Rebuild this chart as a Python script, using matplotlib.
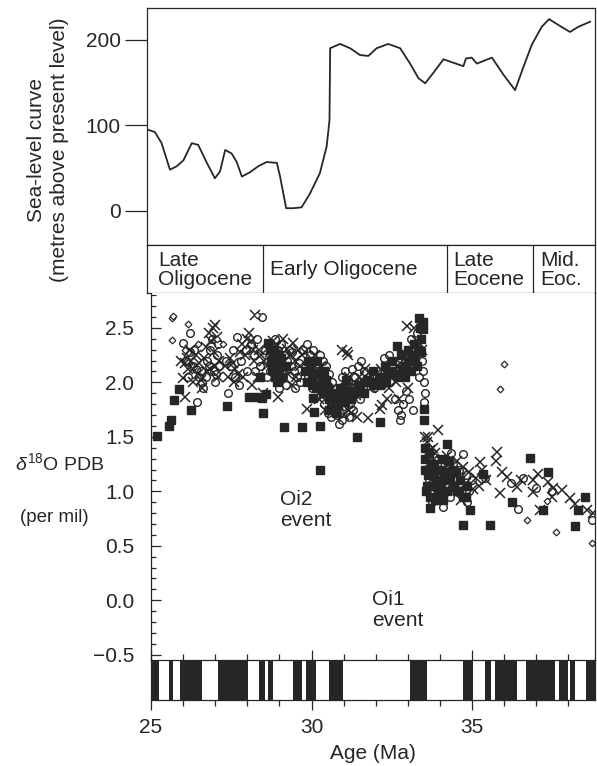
import numpy as np
import matplotlib
matplotlib.use('Agg')
from matplotlib import pyplot as plt
from matplotlib.ticker import MultipleLocator

plt.rcParams['font.family'] = ['Liberation Sans', 'DejaVu Sans']
plt.rcParams['mathtext.fontset'] = 'custom'
plt.rcParams['mathtext.rm'] = 'Liberation Sans'
plt.rcParams['mathtext.it'] = 'Liberation Sans:italic'
ink = '#262626'

# sea-level curve : age (Ma), metres above present level
sl_age = [24.88, 25.12, 25.33, 25.59, 25.80, 26.01, 26.27, 26.47, 26.74, 26.99,
          27.15, 27.31, 27.51, 27.67, 27.83, 28.08, 28.34, 28.60, 28.92, 29.02,
          29.21, 29.43, 29.69, 29.95, 30.26, 30.47, 30.56, 30.58, 30.89, 31.20,
          31.51, 31.77, 32.03, 32.39, 32.76, 33.07, 33.33, 33.54, 33.79, 34.11,
          34.42, 34.73, 34.81, 34.99, 35.15, 35.62, 35.98, 36.34, 36.60, 36.86,
          37.17, 37.40, 37.74, 38.05, 38.31, 38.68]
sl_level = [95, 92, 79, 48, 52, 59, 79, 77, 56, 38,
            46, 71, 67, 57, 40, 45, 52, 57, 56, 40,
            3, 3, 4, 20, 44, 75, 106, 190, 195, 190,
            182, 181, 190, 195, 190, 172, 155, 149, 161, 177,
            173, 169, 178, 179, 172, 179, 159, 141, 168, 194,
            215, 224, 216, 209, 215, 221]

# epochs
epoch_start = [24.875, 28.5, 34.21, 36.91]
epoch_names = ['Late\nOligocene', 'Early Oligocene', 'Late\nEocene', 'Mid.\nEoc.']

# normal polarity intervals (black)
chron_start = [25.0, 25.57, 25.90, 27.10, 28.37, 28.65, 29.41, 29.82, 30.54,
               33.07, 34.73, 35.40, 35.72, 36.69, 37.70, 38.04, 38.54]
chron_end = [25.25, 25.69, 26.58, 28.02, 28.55, 28.81, 29.69, 30.15, 30.99,
             33.59, 35.04, 35.59, 36.40, 37.59, 38.00, 38.22, 38.83]

# d18O (per mil) : (age, value)
circles = [
    (26.21, 2.45), (26.01, 2.36), (26.42, 1.82), (26.10, 2.20), (26.30, 2.15), (26.50, 2.05),
    (26.60, 2.00), (26.75, 2.20), (26.85, 2.30), (26.95, 2.10), (27.05, 2.25), (27.10, 2.35),
    (26.20, 2.28), (26.35, 2.30), (26.55, 2.10), (26.70, 2.05), (26.90, 2.40), (27.00, 2.00),
    (27.12, 2.15), (26.62, 1.95), (26.15, 2.05), (26.40, 2.12), (26.80, 2.15), (27.02, 2.08),
    (27.41, 1.90), (27.67, 2.42), (28.45, 2.60), (27.35, 2.20), (27.50, 2.15), (27.62, 2.05),
    (27.80, 2.20), (27.95, 2.30), (28.10, 2.35), (28.20, 2.25), (28.30, 2.40), (28.38, 2.15),
    (28.55, 2.30), (28.70, 2.10), (27.75, 1.98), (28.00, 2.10), (28.25, 2.10), (27.55, 2.30),
    (28.60, 2.05),
    (28.75, 2.35), (28.85, 2.40), (28.95, 2.30), (29.05, 2.35), (29.15, 2.25), (29.25, 2.20),
    (29.35, 2.15), (29.45, 2.10), (29.55, 2.05), (29.65, 2.00), (29.10, 2.05), (29.20, 1.98),
    (29.30, 2.30), (29.40, 2.28), (29.50, 1.95), (29.60, 2.18), (28.90, 2.25), (29.00, 1.95),
    (29.75, 2.30), (29.85, 2.35), (29.95, 2.25), (30.05, 2.30), (30.12, 2.15), (30.20, 2.10),
    (30.30, 2.05), (30.40, 1.98), (30.50, 1.90), (30.60, 1.80), (30.70, 1.75), (30.80, 1.70),
    (30.90, 1.72), (31.00, 1.78), (31.10, 1.85), (31.20, 1.80), (31.30, 1.75), (31.40, 1.90),
    (31.50, 1.85), (31.60, 1.95), (31.70, 2.00), (29.90, 2.05), (30.00, 1.95), (30.10, 2.00),
    (30.25, 2.25), (30.35, 2.20), (30.45, 2.15), (30.55, 2.08), (30.65, 2.00), (30.75, 1.95),
    (30.85, 1.92), (30.95, 2.05), (31.05, 2.10), (31.15, 2.00), (31.25, 2.12), (31.35, 2.05),
    (31.45, 2.15), (31.55, 2.20), (31.65, 2.10), (30.40, 1.80), (30.60, 1.68), (30.94, 1.65),
    (30.70, 1.85), (31.00, 1.95), (30.30, 1.92), (30.85, 1.62), (31.18, 1.68), (30.50, 1.72),
    (31.80, 2.05), (31.95, 1.95), (32.05, 2.10), (32.20, 1.98), (32.35, 2.08), (32.45, 2.00),
    (32.55, 2.15), (32.70, 2.10), (32.76, 1.65), (32.80, 1.70), (32.85, 1.80), (32.90, 2.20),
    (33.00, 2.12), (33.10, 2.40), (33.20, 2.25), (33.30, 2.45), (33.40, 2.40), (33.45, 2.20),
    (33.50, 2.00), (33.52, 1.90), (33.48, 2.10), (32.60, 1.85), (32.95, 1.92), (33.35, 2.05),
    (32.40, 2.25), (33.15, 1.75), (33.05, 1.85), (32.25, 2.22), (32.68, 1.75), (33.50, 1.82),
    (34.73, 1.34), (34.11, 0.86), (33.60, 1.30), (33.70, 1.20), (33.80, 1.00), (33.90, 1.25),
    (34.00, 1.10), (34.10, 1.30), (34.20, 1.20), (34.30, 0.95), (34.40, 1.25), (34.50, 1.10),
    (34.60, 1.20), (34.70, 1.05), (34.80, 1.15), (34.90, 1.00), (35.00, 1.10), (33.75, 0.90),
    (33.65, 1.10), (34.35, 1.35), (34.85, 0.90),
    (36.44, 0.84), (36.60, 1.12), (37.00, 1.03), (37.50, 1.00), (36.20, 1.08), (35.40, 1.12),
    (38.73, 0.74),
]
crosses = [
    (26.99, 2.53), (26.01, 2.04), (26.06, 1.87), (25.95, 2.20), (26.05, 2.18), (26.12, 2.22),
    (26.25, 2.20), (26.32, 2.12), (26.40, 2.25), (26.48, 2.18), (26.55, 2.02), (26.65, 2.22),
    (26.72, 2.32), (26.80, 2.45), (26.88, 2.38), (26.95, 2.28), (27.05, 2.42), (27.12, 2.20),
    (26.30, 2.00), (26.58, 1.95), (26.85, 2.12), (26.20, 2.30), (26.92, 2.50), (27.08, 2.05),
    (26.15, 2.12), (26.45, 2.08), (26.75, 2.10), (27.00, 2.15),
    (28.24, 2.62), (27.30, 2.15), (27.40, 2.05), (27.45, 2.22), (27.55, 2.18), (27.62, 2.12),
    (27.70, 2.08), (27.78, 2.28), (27.85, 2.35), (27.92, 2.25), (28.00, 2.40), (28.05, 2.45),
    (28.12, 2.38), (28.18, 2.30), (28.22, 2.20), (28.32, 2.05), (28.36, 2.30), (28.42, 2.25),
    (28.52, 2.20), (28.62, 2.15), (28.70, 2.28), (27.60, 2.00), (27.88, 2.05), (28.15, 1.98),
    (28.48, 1.90),
    (28.97, 1.87), (29.43, 2.36), (29.23, 2.31), (28.80, 2.38), (28.90, 2.32), (29.00, 2.28),
    (29.08, 2.18), (29.18, 2.12), (29.28, 2.08), (29.35, 2.25), (29.48, 2.20), (29.58, 2.30),
    (29.65, 2.15), (29.12, 2.40), (29.38, 1.98), (29.52, 2.05), (29.70, 2.25), (28.85, 2.18),
    (29.80, 2.28), (29.92, 2.15), (30.02, 2.18), (30.10, 2.25), (30.18, 2.05), (30.28, 2.15),
    (30.38, 2.08), (30.48, 1.95), (30.58, 1.92), (30.68, 1.88), (30.78, 1.80), (30.88, 1.85),
    (30.98, 1.90), (31.08, 1.95), (31.18, 2.05), (31.28, 1.98), (31.38, 1.88), (31.48, 2.05),
    (31.58, 2.02), (31.68, 2.12), (30.22, 1.85), (30.42, 1.75), (30.62, 1.78), (30.82, 1.72),
    (31.02, 1.70), (31.22, 1.72), (31.42, 1.68), (31.15, 2.25), (30.95, 2.30), (31.15, 1.75),
    (30.32, 1.87), (29.85, 1.76), (31.77, 1.67), (31.10, 2.28),
    (32.13, 1.76), (31.85, 1.95), (32.00, 2.00), (32.15, 2.12), (32.28, 2.05), (32.40, 1.95),
    (32.52, 2.05), (32.62, 2.00), (32.75, 2.18), (32.85, 2.12), (32.98, 2.25), (33.08, 2.20),
    (33.18, 2.32), (33.28, 2.38), (33.38, 2.35), (33.45, 2.30), (33.20, 2.50), (32.97, 2.52),
    (32.72, 1.85), (33.02, 1.95), (32.35, 1.85), (32.19, 1.79),
    (33.55, 1.50), (33.60, 1.45), (33.70, 1.38), (33.85, 1.35), (33.95, 1.56), (33.64, 1.50),
    (33.62, 1.25), (33.72, 1.10), (33.82, 1.30), (33.92, 1.15), (34.02, 1.28), (34.12, 1.05),
    (34.22, 1.32), (34.32, 1.18), (34.42, 1.00), (34.52, 1.28), (34.62, 1.12), (34.72, 1.22),
    (34.82, 1.08), (34.92, 1.18), (35.02, 1.02), (35.12, 1.12), (35.22, 1.05), (35.32, 1.20),
    (35.42, 1.10), (33.78, 1.40), (34.05, 0.95), (34.65, 0.92),
    (35.77, 1.36), (35.74, 1.28), (35.25, 1.27), (35.93, 1.18), (36.10, 1.13), (36.91, 1.10),
    (37.07, 1.16), (37.38, 1.09), (37.53, 1.03), (37.79, 1.01), (38.05, 0.94), (38.20, 0.88),
    (38.57, 0.83), (38.78, 0.80), (36.91, 0.99), (37.12, 0.83), (35.87, 0.98), (36.39, 1.04),
    (36.52, 1.10), (37.50, 0.95),
]
squares = [
    (25.18, 1.51), (25.57, 1.60), (25.62, 1.65), (25.73, 1.84), (25.88, 1.94), (26.25, 1.75),
    (27.36, 1.78),
    (28.05, 1.87), (28.29, 1.87), (28.45, 1.86), (28.58, 1.89), (28.40, 2.05), (28.50, 1.72),
    (28.65, 2.36),
    (28.72, 2.30), (28.80, 2.25), (28.88, 2.20), (28.95, 2.15), (28.78, 2.12), (28.85, 2.05),
    (28.92, 2.00), (29.00, 2.10), (29.05, 2.22), (29.14, 1.59), (28.97, 2.02), (28.75, 2.20),
    (28.82, 2.30), (28.90, 2.10), (29.00, 2.25), (29.08, 2.05), (29.20, 2.15),
    (29.69, 1.59), (30.04, 1.86), (30.08, 1.73), (30.26, 1.60), (31.41, 1.50), (30.26, 1.20),
    (29.80, 2.10), (29.90, 2.20), (30.00, 2.05), (30.15, 1.95), (30.35, 1.90), (30.55, 1.85),
    (30.75, 1.88), (30.95, 1.95), (31.20, 1.92), (31.45, 1.98), (31.65, 1.90), (29.85, 2.00),
    (30.45, 2.02), (31.05, 1.82), (29.95, 2.12), (30.05, 1.98), (30.12, 2.08), (30.22, 1.98),
    (30.32, 2.02), (30.42, 1.92), (30.52, 1.95), (30.62, 1.90), (30.72, 1.82), (30.82, 1.80),
    (30.92, 1.85), (31.02, 1.90), (31.12, 1.92), (31.22, 1.85), (31.32, 1.90), (31.42, 1.92),
    (31.52, 1.95), (31.62, 2.00), (31.72, 2.02), (30.55, 1.75), (30.75, 1.72), (30.88, 1.95),
    (31.08, 2.02), (30.18, 2.20), (30.38, 2.10),
    (32.13, 1.64), (32.65, 2.33), (33.36, 2.59), (33.46, 2.49), (33.50, 1.76), (33.50, 1.65),
    (31.90, 2.10), (32.10, 2.05), (32.30, 2.15), (32.50, 2.20), (32.80, 2.25), (33.00, 2.30),
    (33.20, 2.35), (33.40, 2.28), (33.30, 2.15), (33.10, 2.10), (32.90, 2.05), (31.82, 2.00),
    (31.92, 1.98), (32.02, 2.00), (32.12, 1.98), (32.22, 2.05), (32.32, 2.00), (32.42, 2.08),
    (32.52, 2.10), (32.62, 2.08), (32.72, 2.05), (32.82, 2.12), (32.92, 2.15), (33.02, 2.20),
    (33.12, 2.25), (33.22, 2.20), (33.32, 2.30), (33.42, 2.40), (33.47, 2.55), (33.38, 2.50),
    (33.52, 1.40), (33.53, 1.30), (33.55, 1.20),
    (34.21, 1.43), (33.69, 0.95), (33.74, 1.23), (33.90, 1.04), (34.94, 0.83), (34.73, 0.69),
    (33.60, 1.05), (33.80, 1.15), (34.00, 1.20), (34.20, 1.10), (34.40, 1.05), (34.60, 1.00),
    (34.80, 0.95), (33.70, 0.85), (34.10, 0.92), (34.50, 1.18), (33.95, 0.98), (33.62, 1.15),
    (33.72, 1.05), (33.82, 1.25), (33.92, 1.10), (34.02, 1.05), (34.12, 1.18), (34.22, 1.00),
    (34.32, 1.12), (34.42, 1.20), (34.52, 1.00), (34.62, 1.10), (34.72, 0.95), (33.65, 1.35),
    (33.85, 0.92), (34.05, 1.30), (34.28, 1.28), (34.85, 1.05), (33.58, 1.00),
    (36.81, 1.31), (37.38, 1.18), (36.24, 0.90), (37.22, 0.83), (38.21, 0.68), (38.52, 0.95),
    (38.31, 0.83), (35.56, 0.69), (35.35, 1.16),
]
diamonds = [
    (25.64, 2.59), (25.69, 2.61), (25.64, 2.39), (26.16, 2.54), (26.05, 2.30), (26.45, 2.35),
    (27.05, 2.40), (28.29, 2.62), (27.25, 2.35),
    (36.00, 2.17), (35.87, 1.94), (36.72, 0.74), (37.33, 0.91), (37.62, 0.63), (38.73, 0.53),
]

W, H = 597, 766
fig = plt.figure(figsize=(W / 100, H / 100), dpi=100)


def box(x0, y0, x1, y1):
    # pixel rectangle -> figure fraction
    return [x0 / W, 1 - y1 / H, (x1 - x0) / W, (y1 - y0) / H]


lw = 0.9
x_left, x_right = 24.875, 38.83

# --- sea-level panel
ax_sl = fig.add_axes(box(147, 8, 595, 245))
ax_sl.plot(sl_age, sl_level, color=ink, lw=1.3)
ax_sl.set_xlim(x_left, x_right)
ax_sl.set_ylim(-40, 237)
ax_sl.set_xticks([])
ax_sl.set_yticks([0, 100, 200])
ax_sl.tick_params(axis='y', direction='out', length=16, width=lw, pad=3,
                  labelsize=15, colors=ink)
for s in ax_sl.spines.values():
    s.set_linewidth(lw)
    s.set_color(ink)

# --- epoch strip
ax_ep = fig.add_axes(box(147, 245, 595, 293))
ax_ep.set_xlim(x_left, x_right)
ax_ep.set_ylim(0, 1)
ax_ep.set_xticks([])
ax_ep.set_yticks([])
for s in ax_ep.spines.values():
    s.set_linewidth(lw)
    s.set_color(ink)
for i, (a, name) in enumerate(zip(epoch_start, epoch_names)):
    if i > 0:
        ax_ep.axvline(a, color=ink, lw=lw)
    off = 0.35 if i == 0 else 0.22
    ax_ep.text(a + off, 0.48, name, ha='left', va='center', fontsize=15,
               color=ink, linespacing=1.05)

# --- d18O panel
ax = fig.add_axes(box(151, 293, 595, 660))
ax.set_xlim(25, x_right)
ax.set_ylim(-0.548, 2.82)
ca, cv = zip(*circles)
ax.plot(ca, cv, ls='none', marker='o', ms=5.5, mfc='none', mec=ink, mew=1.0)
xa, xv = zip(*crosses)
ax.plot(xa, xv, ls='none', marker='x', ms=6.5, mec=ink, mew=1.1)
qa, qv = zip(*squares)
ax.plot(qa, qv, ls='none', marker='s', ms=5.5, mfc=ink, mec=ink)
da, dv = zip(*diamonds)
ax.plot(da, dv, ls='none', marker='D', ms=3.4, mfc='white', mec=ink, mew=0.9)
ax.set_xticks([])
ax.yaxis.set_major_locator(MultipleLocator(0.5))
ax.yaxis.set_minor_locator(MultipleLocator(0.1))
ax.tick_params(axis='y', which='major', direction='in', length=7, width=lw,
               pad=12, labelsize=15, colors=ink)
ax.tick_params(axis='y', which='minor', direction='in', length=3.5, width=lw,
               colors=ink)
ax.spines['top'].set_visible(False)
ax.spines['bottom'].set_visible(False)
for s in ['left', 'right']:
    ax.spines[s].set_linewidth(lw)
    ax.spines[s].set_color(ink)
ax.text(29.02, 0.83, 'Oi2\nevent', ha='left', va='center', fontsize=15,
        color=ink, linespacing=1.15)
ax.text(31.88, -0.09, 'Oi1\nevent', ha='left', va='center', fontsize=15,
        color=ink, linespacing=1.15)

# --- magnetic polarity strip
ax_mag = fig.add_axes(box(151, 660, 595, 700))
for a, b in zip(chron_start, chron_end):
    ax_mag.axvspan(a, b, color=ink, lw=0)
ax_mag.set_xlim(25, x_right)
ax_mag.set_ylim(0, 1)
ax_mag.set_yticks([])
ax_mag.xaxis.set_major_locator(MultipleLocator(5))
ax_mag.xaxis.set_minor_locator(MultipleLocator(1))
ax_mag.tick_params(axis='x', which='both', top=True, bottom=True,
                   direction='out', width=lw, colors=ink)
ax_mag.tick_params(axis='x', which='major', length=7, pad=6, labelsize=15)
ax_mag.tick_params(axis='x', which='minor', length=4)
for s in ax_mag.spines.values():
    s.set_linewidth(lw)
    s.set_color(ink)
ax_mag.set_xlabel('Age (Ma)', fontsize=15, color=ink, labelpad=5)

# --- y labels
fig.text(48 / W, 1 - 150 / H, 'Sea-level curve\n(metres above present level)',
         rotation=90, ha='center', va='center', fontsize=15, color=ink,
         linespacing=1.3, multialignment='center')
fig.text(15 / W, 1 - 463 / H, r'$\delta^{18}$O PDB', ha='left', va='center',
         fontsize=14, color=ink)
fig.text(20 / W, 1 - 518 / H, '(per mil)', ha='left', va='center',
         fontsize=13.5, color=ink)

fig.savefig('out.png', dpi=100)
